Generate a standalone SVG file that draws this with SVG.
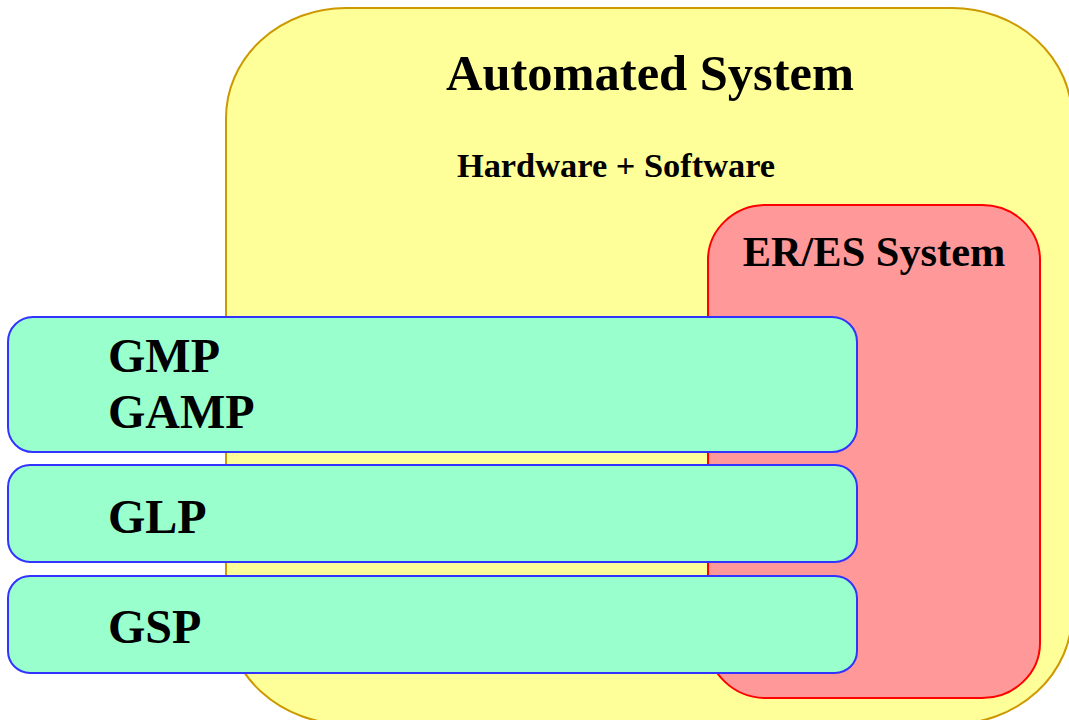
<svg xmlns="http://www.w3.org/2000/svg" width="1069" height="720" viewBox="0 0 1069 720">
<style>
text{font-family:"Liberation Serif","Times New Roman",serif;font-weight:bold;fill:#000}
.big{font-size:48px}
.std{fill:#99ffcc;stroke:#3333ff;stroke-width:2}
</style>
<rect width="1069" height="720" fill="#ffffff"/>
<g id="automated-system">
<rect x="226" y="8" width="846" height="716" rx="120" ry="110" fill="#ffff99" stroke="#cc9900" stroke-width="2"/>
<text x="650" y="90" font-size="50.5" text-anchor="middle">Automated System</text>
<text x="616" y="177" font-size="34.4" text-anchor="middle">Hardware + Software</text>
</g>
<g id="eres-system">
<rect x="708" y="205" width="332" height="493" rx="58" ry="55" fill="#ff9999" stroke="#ff0000" stroke-width="2"/>
<text x="874" y="266" font-size="42.4" text-anchor="middle">ER/ES System</text>
</g>
<g id="gmp">
<rect class="std" x="8" y="317" width="849" height="135" rx="25" ry="25"/>
<text class="big" x="108" y="372">GMP</text>
<text class="big" x="108" y="428">GAMP</text>
</g>
<g id="glp">
<rect class="std" x="8" y="465" width="849" height="97" rx="22" ry="22"/>
<text class="big" x="108" y="533">GLP</text>
</g>
<g id="gsp">
<rect class="std" x="8" y="576" width="849" height="97" rx="22" ry="22"/>
<text class="big" x="108" y="643">GSP</text>
</g>
<g id="connectors"/>
</svg>
